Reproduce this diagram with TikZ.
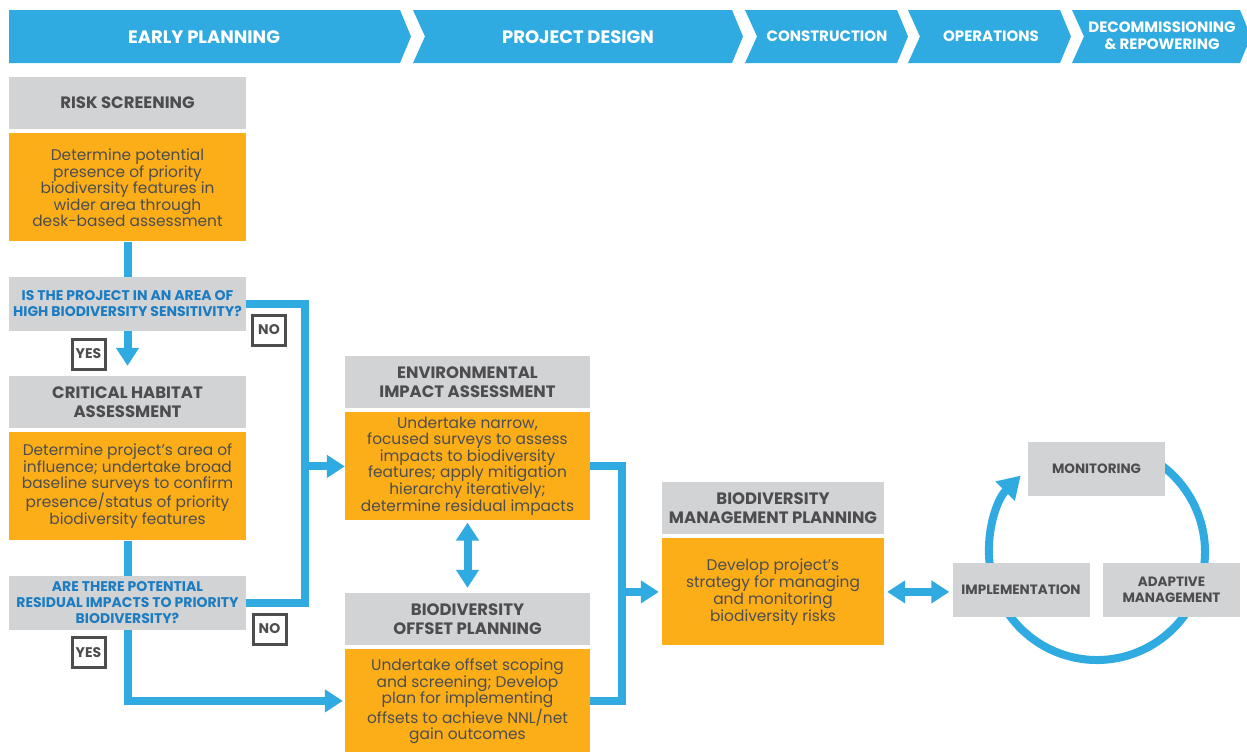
\documentclass[tikz,border=0pt]{standalone}
\usepackage{fontspec}
\setmainfont{Poppins}
\usepackage{tikz}
\usetikzlibrary{positioning,arrows.meta}
\definecolor{sky}{HTML}{30ABE2}
\definecolor{mist}{HTML}{D1D3D4}
\definecolor{amber}{HTML}{FBAE17}
\definecolor{ink}{HTML}{4D4D4F}
\definecolor{qblue}{HTML}{1C7CC2}
\begin{document}
\begin{tikzpicture}[x=1pt,y=-1pt,
  hdr/.style={fill=mist,text=ink,font=\bfseries\fontsize{16.5}{18.5}\selectfont,minimum width=237pt,minimum height=52pt,inner sep=0pt,align=center},
  body/.style={fill=amber,text=ink,font=\fontsize{15.4}{15.6}\selectfont,minimum width=237pt,minimum height=108pt,inner sep=0pt,align=center},
  ask/.style={fill=mist,text=qblue,font=\bfseries\fontsize{14}{16}\selectfont,minimum width=237pt,minimum height=54pt,inner sep=0pt,align=center},
  tag/.style={draw=ink,line width=3pt,fill=white,text=ink,font=\bfseries\fontsize{14}{14}\selectfont,minimum width=33pt,minimum height=30pt,inner sep=0pt},
  cyc/.style={fill=mist,text=ink,font=\bfseries\fontsize{13.5}{15.5}\selectfont,minimum width=137pt,minimum height=54pt,inner sep=0pt,align=center},
  phase/.style={text=white,font=\bfseries\fontsize{18}{18}\selectfont,align=center},
  small/.style={font=\bfseries\fontsize{15}{17}\selectfont},
  link/.style={draw=sky,line width=8pt},
  arr/.style={link,-{Triangle[width=22pt,length=18pt]}},
  dbl/.style={link,{Triangle[width=22pt,length=18pt]}-{Triangle[width=22pt,length=18pt]}}]
\useasboundingbox (0,0) rectangle (1247,753);

\foreach \l/\r/\k in {9/400/0,413/732/12,745/897/12,908/1060/12,1072/1240/12}
  \fill[sky] (\l,10) -- (\r,10) -- ++(11,26.5) -- (\r,63) -- (\l,63) -- ++(\k,-26.5) -- cycle;
\node[phase] (p1) at (204,37) {EARLY PLANNING};
\node[phase] (p2) at (578,37) {PROJECT DESIGN};
\node[phase,small] (p3) at (827,36) {CONSTRUCTION};
\node[phase,small] (p4) at (991,36) {OPERATIONS};
\node[phase,small] (p5) at (1162,36) {DECOMMISSIONING\\\& REPOWERING};

\coordinate (cc) at (1097,552);
\draw[link,-{Triangle[width=26pt,length=22pt]}] (cc) ++(-70:108) arc[start angle=-70,end angle=225,radius=108];

\node[hdr] (rs) at (127.5,103) {RISK SCREENING};
\node[body,below=4pt of rs] (rsb) {Determine potential\\presence of priority\\biodiversity features in\\wider area through\\desk-based assessment};
\node[ask] (q1) at (127.5,304) {IS THE PROJECT IN AN AREA OF\\HIGH BIODIVERSITY SENSITIVITY?};
\node[hdr] (ch) at (127.5,402) {CRITICAL HABITAT\\ASSESSMENT};
\node[body,below=4pt of ch] (chb) {Determine project’s area of\\influence; undertake broad\\baseline surveys to confirm\\presence/status of priority\\biodiversity features};
\node[ask] (q2) at (127.5,603) {ARE THERE POTENTIAL\\RESIDUAL IMPACTS TO PRIORITY\\BIODIVERSITY?};
\node[hdr,minimum width=245pt] (eia) at (467.5,382) {ENVIRONMENTAL\\IMPACT ASSESSMENT};
\node[body,minimum width=245pt,below=4pt of eia] (eiab) {Undertake narrow,\\focused surveys to assess\\impacts to biodiversity\\features; apply mitigation\\hierarchy iteratively;\\determine residual impacts};
\node[hdr,minimum width=245pt] (bop) at (467.5,619) {BIODIVERSITY\\OFFSET PLANNING};
\node[body,minimum width=245pt,minimum height=103pt,below=4pt of bop] (bopb) {Undertake offset scoping\\and screening; Develop\\plan for implementing\\offsets to achieve NNL/net\\gain outcomes};
\node[hdr,minimum width=222pt] (bmp) at (773,508) {BIODIVERSITY\\MANAGEMENT PLANNING};
\node[body,minimum width=222pt,minimum height=107pt,below=4pt of bmp] (bmpb) {Develop project’s\\strategy for managing\\and monitoring\\biodiversity risks};
\node[cyc] (mon) at (1096.5,468.5) {MONITORING};
\node[cyc] (imp) at (1021,590) {IMPLEMENTATION};
\node[cyc] (adm) at (1171.5,590) {ADAPTIVE\\MANAGEMENT};

\coordinate (jl) at (305,0);
\coordinate (jr) at (622,0);
\draw[link] (rsb.south) -- (q1.north);
\draw[arr,shorten >=10pt] (q1.south) -- (ch.north);
\draw[link] (chb.south) -- (q2.north);
\draw[link] (q1.east) -- (q1.east -| jl) -- (q2.east -| jl) -- (q2.east);
\draw[arr] (jl |- eiab) -- (eiab.west);
\draw[arr,shorten >=2pt] (q2.south) -- (q2.south |- bopb) -- (bopb.west);
\draw[link] (eiab.east) -- (eiab.east -| jr) -- (bopb.east -| jr) -- (bopb.east);
\draw[arr,shorten >=3pt] (jr |- bmpb) -- (bmpb.west);
\draw[dbl,shorten <=2pt,shorten >=5pt] (eiab.south) -- (bop.north);
\draw[dbl,shorten <=3pt,shorten >=3pt] (bmpb.east) -- (bmpb.east -| imp.west);

\node[tag] (y1) at (88.5,354) {YES};
\node[tag] (n1) at (269,330) {NO};
\node[tag] (y2) at (88.5,652.5) {YES};
\node[tag] (n2) at (269.5,629) {NO};
\end{tikzpicture}
\end{document}
